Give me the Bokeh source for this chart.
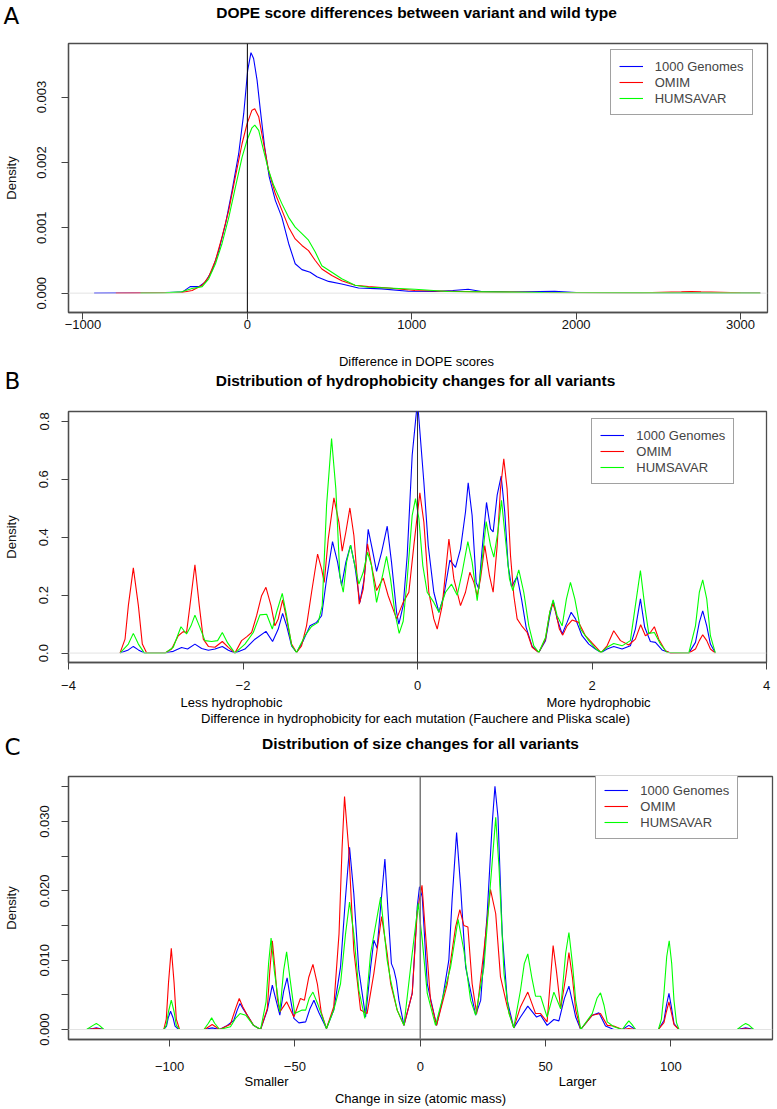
from bokeh.plotting import figure
from bokeh.models import Range1d, FixedTicker, Span, Legend, LegendItem
from bokeh.layouts import column
from bokeh.core.properties import value
from bokeh.embed import file_html
from bokeh.resources import INLINE

SERIES = ["1000 Genomes", "OMIM", "HUMSAVAR"]
COLORS = ["#0000ff", "#ff0000", "#00ff00"]
FONT = "Liberation Sans"
W = 777

# ---------------- Panel A : DOPE score differences (density) ----------------
a_blue_x = [-932, -700, -500, -396, -348, -336, -295, -255, -214, -174, -133, -93, -53, -22, 2, 22, 38,
            59, 79, 105, 133, 170, 210, 251, 291, 332, 382, 423, 494, 574, 676, 817, 979, 1141, 1250,
            1343, 1424, 1600, 1869, 2000, 2500, 3120]
a_blue_y = [0, 0.000005, 0.00001, 0.000015, 0.0001, 0.0001, 0.0001, 0.00017, 0.00035, 0.00065, 0.00106,
            0.00157, 0.00213, 0.00275, 0.00341, 0.00368, 0.00359, 0.00326, 0.0028, 0.00224, 0.00178,
            0.00142, 0.00116, 0.00076, 0.00045, 0.00036, 0.00032, 0.00025, 0.00018, 0.00014, 0.00008,
            0.000066, 0.00003, 0.000025, 0.00004, 0.00006, 0.000025, 0.000015, 0.00003, 0.00001,
            0.000005, 0]
a_red_x = [-800, -600, -400, -336, -275, -235, -194, -154, -113, -73, -32, -2, 28, 45, 69, 99, 129, 170,
           210, 251, 291, 332, 372, 413, 453, 514, 574, 655, 736, 858, 1019, 1222, 1424, 1800, 2400,
           2640, 2700, 2760, 3000, 3120]
a_red_y = [0, 0.000005, 0.00001, 0.00004, 0.00012, 0.00025, 0.0005, 0.00086, 0.00127, 0.00178, 0.00229,
           0.00259, 0.0028, 0.00282, 0.0027, 0.00229, 0.00188, 0.00152, 0.00127, 0.00101, 0.00083,
           0.00073, 0.00065, 0.0005, 0.00037, 0.00027, 0.00019, 0.00012, 0.0001, 0.00008, 0.00004,
           0.00003, 0.00002, 0.00001, 0.000005, 0.00002, 0.000025, 0.00002, 0.000005, 0]
a_green_x = [-650, -500, -400, -336, -275, -235, -194, -154, -113, -73, -32, -2, 28, 45, 69, 99, 129,
             160, 210, 251, 291, 332, 372, 413, 453, 514, 574, 655, 736, 858, 1019, 1222, 1424, 1800,
             2400, 3120]
a_green_y = [0, 0.000005, 0.00002, 0.00007, 0.0001, 0.00022, 0.00045, 0.00076, 0.00116, 0.00162,
             0.00208, 0.00234, 0.00253, 0.00257, 0.00249, 0.00218, 0.00188, 0.00165, 0.00137, 0.00116,
             0.00101, 0.00091, 0.00081, 0.00063, 0.00042, 0.00032, 0.00022, 0.00012, 0.00009, 0.00008,
             0.00006, 0.000025, 0.00002, 0.00001, 0.000005, 0]
a_xticks = [-1000, 0, 1000, 2000, 3000]
a_xlabels = ["\u22121000", "0", "1000", "2000", "3000"]
a_yticks = [0, 0.001, 0.002, 0.003]
a_ylabels = ["0.000", "0.001", "0.002", "0.003"]

# ---------------- Panel B : hydrophobicity changes, (x, density) pairs ----------------
b_blue = [(-3.41, 0), (-3.314, 0.011), (-3.257, 0.023), (-3.199, 0.011), (-3.13, 0), (-2.894, 0),
          (-2.799, 0.006), (-2.704, 0.019), (-2.635, 0.014), (-2.551, 0.031), (-2.474, 0.016),
          (-2.397, 0.01), (-2.321, 0.014), (-2.237, 0.023), (-2.168, 0.01), (-2.092, 0), (-1.978, 0.014),
          (-1.863, 0.048), (-1.737, 0.075), (-1.661, 0.04), (-1.596, 0.083), (-1.546, 0.137),
          (-1.5, 0.094), (-1.443, 0.025), (-1.386, 0.002), (-1.309, 0.043), (-1.233, 0.094),
          (-1.157, 0.106), (-1.099, 0.129), (-1.042, 0.256), (-0.974, 0.385), (-0.916, 0.314),
          (-0.87, 0.233), (-0.821, 0.314), (-0.767, 0.373), (-0.718, 0.302), (-0.66, 0.175),
          (-0.611, 0.256), (-0.565, 0.427), (-0.519, 0.36), (-0.469, 0.282), (-0.412, 0.348),
          (-0.347, 0.438), (-0.298, 0.314), (-0.24, 0.141), (-0.214, 0.1), (-0.164, 0.164),
          (-0.118, 0.337), (-0.061, 0.683), (0.0, 0.87), (0.073, 0.59), (0.123, 0.371), (0.187, 0.21),
          (0.245, 0.141), (0.302, 0.198), (0.371, 0.321), (0.436, 0.296), (0.493, 0.36), (0.55, 0.487),
          (0.581, 0.588), (0.626, 0.475), (0.672, 0.244), (0.703, 0.221), (0.741, 0.36), (0.791, 0.52),
          (0.837, 0.429), (0.867, 0.418), (0.913, 0.545), (0.959, 0.611), (1.0, 0.487), (1.039, 0.302),
          (1.077, 0.229), (1.142, 0.264), (1.192, 0.187), (1.245, 0.089), (1.314, 0.023), (1.39, 0.002),
          (1.467, 0.043), (1.516, 0.129), (1.555, 0.181), (1.6, 0.118), (1.658, 0.066), (1.714, 0.106),
          (1.761, 0.141), (1.811, 0.118), (1.886, 0.06), (1.963, 0.031), (2.039, 0.014), (2.104, 0.002),
          (2.173, 0.014), (2.249, 0.023), (2.345, 0.014), (2.44, 0.025), (2.497, 0.083), (2.555, 0.187),
          (2.604, 0.089), (2.669, 0.04), (2.727, 0.037), (2.803, 0.011), (2.899, 0), (3.109, 0),
          (3.186, 0.037), (3.23, 0.106), (3.269, 0.146), (3.315, 0.094), (3.357, 0.031), (3.414, 0)]
b_red = [(-3.41, 0), (-3.352, 0.048), (-3.314, 0.164), (-3.257, 0.294), (-3.199, 0.164), (-3.154, 0.031),
         (-3.104, 0), (-2.894, 0), (-2.818, 0.014), (-2.742, 0.06), (-2.685, 0.074), (-2.647, 0.071),
         (-2.608, 0.164), (-2.551, 0.305), (-2.501, 0.164), (-2.455, 0.048), (-2.397, 0.023),
         (-2.321, 0.02), (-2.237, 0.04), (-2.168, 0.02), (-2.092, 0), (-2.016, 0.043), (-1.959, 0.056),
         (-1.901, 0.071), (-1.844, 0.129), (-1.787, 0.198), (-1.737, 0.227), (-1.679, 0.164),
         (-1.634, 0.094), (-1.596, 0.118), (-1.546, 0.184), (-1.5, 0.118), (-1.443, 0.031),
         (-1.386, 0.002), (-1.329, 0.025), (-1.272, 0.094), (-1.214, 0.21), (-1.145, 0.342),
         (-1.099, 0.29), (-1.069, 0.244), (-1.023, 0.394), (-0.958, 0.536), (-0.901, 0.452),
         (-0.863, 0.352), (-0.821, 0.418), (-0.775, 0.501), (-0.729, 0.406), (-0.668, 0.169),
         (-0.622, 0.221), (-0.573, 0.377), (-0.519, 0.29), (-0.469, 0.216), (-0.393, 0.259),
         (-0.336, 0.198), (-0.24, 0.118), (-0.164, 0.175), (-0.099, 0.21), (-0.042, 0.371),
         (0.027, 0.553), (0.073, 0.452), (0.13, 0.21), (0.187, 0.118), (0.226, 0.083), (0.283, 0.164),
         (0.36, 0.394), (0.417, 0.256), (0.493, 0.164), (0.55, 0.21), (0.6, 0.279), (0.646, 0.244),
         (0.684, 0.198), (0.722, 0.256), (0.771, 0.371), (0.825, 0.267), (0.867, 0.21), (0.913, 0.371),
         (0.951, 0.567), (0.989, 0.671), (1.027, 0.567), (1.066, 0.337), (1.104, 0.198), (1.142, 0.118),
         (1.199, 0.092), (1.257, 0.071), (1.314, 0.02), (1.39, 0.002), (1.467, 0.048), (1.516, 0.141),
         (1.55, 0.172), (1.588, 0.138), (1.626, 0.083), (1.665, 0.062), (1.714, 0.094), (1.772, 0.114),
         (1.848, 0.106), (1.924, 0.06), (2.001, 0.035), (2.104, 0.002), (2.173, 0.025), (2.249, 0.077),
         (2.326, 0.043), (2.421, 0.028), (2.497, 0.048), (2.558, 0.098), (2.612, 0.06), (2.669, 0.071),
         (2.715, 0.091), (2.765, 0.048), (2.841, 0.008), (2.899, 0), (3.109, 0), (3.186, 0.014),
         (3.23, 0.043), (3.269, 0.063), (3.315, 0.043), (3.357, 0.014), (3.414, 0)]
b_green = [(-3.41, 0), (-3.314, 0.031), (-3.257, 0.068), (-3.199, 0.031), (-3.13, 0), (-2.894, 0),
           (-2.799, 0.02), (-2.711, 0.091), (-2.647, 0.066), (-2.596, 0.094), (-2.551, 0.131),
           (-2.501, 0.094), (-2.436, 0.043), (-2.36, 0.04), (-2.291, 0.043), (-2.237, 0.071),
           (-2.176, 0.035), (-2.092, 0), (-1.978, 0.031), (-1.882, 0.071), (-1.806, 0.132),
           (-1.729, 0.134), (-1.664, 0.083), (-1.615, 0.141), (-1.55, 0.206), (-1.5, 0.129),
           (-1.443, 0.026), (-1.386, 0.002), (-1.29, 0.06), (-1.214, 0.092), (-1.138, 0.106),
           (-1.092, 0.164), (-1.042, 0.51), (-0.985, 0.741), (-0.936, 0.567), (-0.89, 0.266),
           (-0.851, 0.21), (-0.813, 0.314), (-0.767, 0.373), (-0.718, 0.302), (-0.672, 0.238),
           (-0.622, 0.279), (-0.573, 0.348), (-0.527, 0.302), (-0.469, 0.175), (-0.401, 0.267),
           (-0.355, 0.334), (-0.309, 0.256), (-0.26, 0.141), (-0.21, 0.068), (-0.164, 0.11),
           (-0.118, 0.256), (-0.061, 0.475), (-0.023, 0.533), (0.016, 0.464), (0.061, 0.302),
           (0.111, 0.21), (0.187, 0.175), (0.245, 0.141), (0.321, 0.21), (0.39, 0.238), (0.455, 0.2),
           (0.512, 0.279), (0.577, 0.385), (0.626, 0.314), (0.684, 0.181), (0.734, 0.302),
           (0.787, 0.454), (0.837, 0.371), (0.875, 0.331), (0.921, 0.418), (0.963, 0.527),
           (1.008, 0.394), (1.054, 0.256), (1.092, 0.216), (1.161, 0.287), (1.218, 0.21), (1.276, 0.094),
           (1.333, 0.025), (1.39, 0.002), (1.467, 0.054), (1.516, 0.141), (1.555, 0.184), (1.6, 0.129),
           (1.658, 0.094), (1.707, 0.187), (1.753, 0.244), (1.803, 0.187), (1.868, 0.083),
           (1.963, 0.043), (2.039, 0.016), (2.104, 0.002), (2.173, 0.02), (2.249, 0.033), (2.345, 0.025),
           (2.44, 0.043), (2.497, 0.164), (2.555, 0.285), (2.604, 0.164), (2.65, 0.068), (2.715, 0.071),
           (2.784, 0.031), (2.86, 0.002), (3.109, 0), (3.186, 0.094), (3.23, 0.21), (3.269, 0.253),
           (3.315, 0.187), (3.357, 0.06), (3.414, 0)]
b_xticks = [-4, -2, 0, 2, 4]
b_xlabels = ["\u22124", "\u22122", "0", "2", "4"]
b_yticks = [0, 0.2, 0.4, 0.6, 0.8]
b_ylabels = ["0.0", "0.2", "0.4", "0.6", "0.8"]

# ---------------- Panel C : size changes, (x, density) pairs ----------------
c_blue = [(-133.1, 0), (-130.5, 0.00015), (-129.2, 0.00024), (-128, 0.00015), (-126.2, 0), (-102.3, 0),
          (-101.2, 0.0005), (-100.5, 0.0017), (-99.6, 0.00264), (-98.6, 0.0017), (-97.8, 0.0005),
          (-96.3, 0), (-86, 0), (-83, 0.00024), (-80, 0), (-77, 0.0006), (-74.4, 0.0013), (-73, 0.0028),
          (-71.9, 0.00375), (-70.5, 0.0029), (-69, 0.00207), (-66.5, 0.0006), (-63.7, 0), (-61, 0.0028),
          (-59, 0.0064), (-57.5, 0.0042), (-56, 0.00207), (-54.5, 0.0055), (-53.1, 0.00745),
          (-51.8, 0.0045), (-50.4, 0.0016), (-48.4, 0.00096), (-45.7, 0.0011), (-44, 0.003),
          (-42.4, 0.00423), (-40.5, 0.0025), (-37.4, 0.00014), (-34.5, 0.0028), (-31.8, 0.009),
          (-29.8, 0.0191), (-28.2, 0.0263), (-26.5, 0.0196), (-24.5, 0.0086), (-21.8, 0.0018),
          (-19.8, 0.009), (-18.5, 0.0129), (-17.2, 0.0117), (-15.8, 0.0177), (-14.1, 0.0246),
          (-12.5, 0.015), (-11.5, 0.0095), (-10.5, 0.0086), (-9.5, 0.007), (-8.5, 0.0042),
          (-6.5, 0.0006), (-3.2, 0.0052), (-1.2, 0.0177), (-0.3, 0.0206), (0.8, 0.0191), (2.8, 0.0066),
          (6.5, 0.0006), (8.8, 0.0042), (11.4, 0.01), (12.7, 0.0187), (14.5, 0.0284), (16.1, 0.0206),
          (18.1, 0.009), (22.1, 0.00207), (24.1, 0.0042), (26.7, 0.0167), (28.7, 0.0297), (29.8, 0.0351),
          (31, 0.0307), (32.7, 0.0138), (34.7, 0.0042), (37.3, 0.00024), (40, 0.0018), (42.9, 0.00337),
          (46.4, 0.0018), (48, 0.00207), (50.6, 0.0006), (53.3, 0.00144), (55.3, 0.00125),
          (57.5, 0.0045), (59.3, 0.00625), (61, 0.0035), (62, 0.0018), (64, 0), (68.6, 0.00207),
          (71.3, 0.0024), (73.9, 0.0005), (77.2, 0), (80.6, 0), (83.2, 0.0006), (85.9, 0), (95, 0),
          (97.2, 0.0013), (98.2, 0.0035), (99.2, 0.0052), (100.2, 0.0032), (101.2, 0.00087),
          (103.2, 0), (126.4, 0), (128.5, 0.00015), (129.8, 0.00024), (131.2, 0.00015), (133, 0)]
c_red = [(-133.1, 0), (-129.2, 0.00014), (-126.2, 0), (-102.3, 0), (-101.3, 0.0015), (-100.4, 0.0068),
         (-99.3, 0.0117), (-98.2, 0.0068), (-97.3, 0.0015), (-96, 0), (-86, 0), (-83, 0.00072), (-80, 0),
         (-75.7, 0.00077), (-73.5, 0.0032), (-72.2, 0.00447), (-70.8, 0.0033), (-69, 0.00207),
         (-66.5, 0.0006), (-63.7, 0), (-61, 0.003), (-60, 0.0085), (-59, 0.0128), (-58, 0.009),
         (-57, 0.0045), (-56, 0.00255), (-53.3, 0.00399), (-50.4, 0.0018), (-47.8, 0.00447),
         (-46.2, 0.00423), (-44.5, 0.0075), (-42.8, 0.0094), (-41, 0.0065), (-39.5, 0.0025),
         (-37.4, 0.00014), (-34.5, 0.0033), (-32.4, 0.0138), (-31.2, 0.026), (-30.2, 0.0336),
         (-28.5, 0.0259), (-26.5, 0.0114), (-23.8, 0.0028), (-21.2, 0.0023), (-18.5, 0.0081),
         (-15.4, 0.0163), (-13.2, 0.011), (-11.8, 0.0066), (-9.2, 0.0028), (-6.5, 0.0006),
         (-3.2, 0.0052), (-1.2, 0.017), (0.7, 0.0208), (2.1, 0.0138), (4.1, 0.0042), (6.5, 0.0006),
         (10.8, 0.0066), (14.1, 0.0148), (15.8, 0.0173), (17.4, 0.015), (19.0, 0.0148), (20.7, 0.0066),
         (22.5, 0.0023), (25.4, 0.0114), (28.0, 0.0202), (30.1, 0.0167), (32.0, 0.0076), (34.7, 0.0033),
         (37.3, 0.00024), (40, 0.0033), (42.9, 0.0054), (46, 0.0023), (48, 0.0023), (50.6, 0.0011),
         (52, 0.0075), (53.0, 0.0121), (54.3, 0.0085), (56.0, 0.003), (58, 0.0075), (59.3, 0.0111),
         (60.7, 0.0075), (62, 0.0028), (64, 0), (68.6, 0.00207), (71.9, 0.0023), (74.6, 0.0006),
         (77.2, 0.0005), (80.6, 0), (83.2, 0.00014), (86, 0), (95, 0), (97.2, 0.001), (98.2, 0.0026),
         (99.2, 0.004), (100.2, 0.0024), (101.2, 0.0007), (103.2, 0), (126.4, 0), (129.8, 0.0001),
         (133, 0)]
c_green = [(-133.1, 0), (-130.5, 0.0006), (-129.2, 0.00087), (-128, 0.0006), (-126.2, 0), (-102.3, 0),
           (-101.3, 0.0006), (-100.4, 0.0026), (-99.3, 0.00423), (-98.2, 0.0026), (-97.3, 0.0006),
           (-96, 0), (-86.3, 0), (-84.5, 0.0009), (-83.2, 0.00168), (-82, 0.0009), (-80, 0),
           (-75.7, 0.0004), (-73.7, 0.0016), (-71.9, 0.0023), (-69.6, 0.00207), (-66.5, 0.0006),
           (-63.7, 0), (-61.5, 0.004), (-60.5, 0.0095), (-59.5, 0.0132), (-58.2, 0.0085),
           (-56, 0.00255), (-54.5, 0.0085), (-53.3, 0.0112), (-52, 0.0075), (-50.1, 0.0023),
           (-47.1, 0.0028), (-45.7, 0.0028), (-44.3, 0.0045), (-42.8, 0.0054), (-41, 0.0038),
           (-37.4, 0.00014), (-34.5, 0.0028), (-31.8, 0.0066), (-29.8, 0.0138), (-28.2, 0.0184),
           (-26.5, 0.0138), (-24.5, 0.0057), (-22.1, 0.0016), (-19.8, 0.011), (-15.8, 0.0191),
           (-13.2, 0.01), (-11.8, 0.0071), (-9.2, 0.0028), (-6.5, 0.0006), (-3.2, 0.011),
           (-0.8, 0.0182), (0.8, 0.0129), (2.8, 0.0052), (6.1, 0.0006), (9.4, 0.0052), (12.1, 0.009),
           (15.1, 0.0159), (17.4, 0.0114), (20.1, 0.0042), (22.1, 0.00207), (25.4, 0.009), (28.0, 0.021),
           (30.1, 0.0306), (31.4, 0.0235), (33.4, 0.0081), (35.4, 0.0023), (37.3, 0.00024),
           (40, 0.0057), (41.5, 0.0095), (42.9, 0.0109), (44.5, 0.0075), (46, 0.0048), (48, 0.0048),
           (50.6, 0.0018), (53.3, 0.0054), (56, 0.003), (58, 0.011), (59.3, 0.014), (60.7, 0.0095),
           (62, 0.0042), (64, 0), (68.6, 0.0023), (70.5, 0.0045), (71.9, 0.0053), (73.3, 0.0035),
           (74.6, 0.0011), (77.2, 0.0004), (80.6, 0), (82, 0.0007), (83.2, 0.00125), (84.5, 0.0007),
           (85.9, 0), (95, 0), (96.2, 0.0015), (97.2, 0.0052), (98.3, 0.0105), (99.3, 0.0128),
           (100.3, 0.0095), (101.2, 0.0042), (102.2, 0.001), (103.2, 0), (126.4, 0), (128.5, 0.0006),
           (129.8, 0.00087), (131.2, 0.0006), (133, 0)]
c_xticks = [-100, -50, 0, 50, 100]
c_xlabels = ["\u2212100", "\u221250", "0", "50", "100"]
c_yticks = [0, 0.005, 0.01, 0.015, 0.02, 0.025, 0.03, 0.035]
c_ylabels = ["0.000", "", "0.010", "", "0.020", "", "0.030", ""]

# ---------------- texts ----------------
TITLE_A = "DOPE score differences between variant and wild type"
TITLE_B = "Distribution of hydrophobicity changes for all variants"
TITLE_C = "Distribution of size changes for all variants"
XLAB_A = "Difference in DOPE scores"
XLAB_B = "Difference in hydrophobicity for each mutation (Fauchere and Pliska scale)"
XLAB_C = "Change in size (atomic mass)"
SIDE_B = ["Less hydrophobic", "More hydrophobic"]
SIDE_C = ["Smaller", "Larger"]


def unzip(pairs):
    return [p[0] for p in pairs], [p[1] for p in pairs]


def panel(height, borders, xr, yr, xt, xl, yt, yl, curves, leg_loc, vcolor, vwidth,
          xstand, ystand, ylab_stand):
    bl, br, bt, bb = borders
    p = figure(width=W, height=height, x_range=Range1d(*xr), y_range=Range1d(*yr),
               output_backend="svg", toolbar_location=None, title=None,
               min_border_left=bl, min_border_right=br, min_border_top=bt, min_border_bottom=bb)
    p.frame_align = False
    p.xgrid.visible = False
    p.ygrid.visible = False
    p.background_fill_color = "white"
    p.border_fill_color = "white"
    p.outline_line_color = "#4d4d4d"
    p.outline_line_width = 1.3
    for ax in (p.xaxis[0], p.yaxis[0]):
        ax.axis_line_color = "#4d4d4d"
        ax.axis_line_width = 1.3
        ax.major_tick_in = 0
        ax.major_tick_out = 7
        ax.major_tick_line_color = "#444444"
        ax.minor_tick_line_color = None
        ax.major_label_text_font = FONT
        ax.major_label_text_font_size = "13px"
        ax.major_label_text_color = "#111111"
    p.xaxis.ticker = FixedTicker(ticks=xt)
    p.xaxis.major_label_overrides = dict(zip(xt, xl))
    p.xaxis.major_label_standoff = xstand
    p.yaxis.ticker = FixedTicker(ticks=yt)
    p.yaxis.major_label_overrides = dict(zip(yt, yl))
    p.yaxis.major_label_orientation = "vertical"
    p.yaxis.major_label_standoff = ystand
    p.yaxis.axis_label = "Density"
    p.yaxis.axis_label_text_font = FONT
    p.yaxis.axis_label_text_font_size = "13px"
    p.yaxis.axis_label_text_font_style = "normal"
    p.yaxis.axis_label_text_color = "#111111"
    p.yaxis.axis_label_standoff = ylab_stand
    p.add_layout(Span(location=0, dimension="width", line_color="#e3e3e3", line_width=1))
    p.add_layout(Span(location=0, dimension="height", line_color=vcolor, line_width=vwidth))
    rs = []
    for (xs, ys), c in zip(curves, COLORS):
        rs.append(p.line(xs, ys, line_color=c, line_width=1.1))
    leg = Legend(items=[LegendItem(label=n, renderers=[r]) for n, r in zip(SERIES, rs)],
                 location=leg_loc, label_text_font=FONT, label_text_font_size="13px",
                 glyph_width=24, glyph_height=16, label_height=16, label_standoff=12,
                 spacing=0, padding=8, margin=0, border_line_color="#444444",
                 border_line_width=1, background_fill_color="white", background_fill_alpha=1)
    p.add_layout(leg)
    return p


def strip(height, items):
    """items: (text, x, y, size, bold, align, font) with x, y in pixels of this strip."""
    s = figure(width=W, height=height, x_range=Range1d(0, W), y_range=Range1d(height, 0),
               output_backend="svg", toolbar_location=None, title=None,
               x_axis_type=None, y_axis_type=None,
               min_border_left=0, min_border_right=0, min_border_top=0, min_border_bottom=0)
    s.frame_align = False
    s.xgrid.visible = False
    s.ygrid.visible = False
    s.outline_line_color = None
    s.background_fill_color = "white"
    s.border_fill_color = "white"
    for text, x, y, size, bold, align, font in items:
        s.text(x=[x], y=[y], text=[text], text_align=align, text_baseline="middle",
               text_font=value(font), text_font_size=value(size),
               text_font_style="bold" if bold else "normal", text_color="black")
    return s


LET = "DejaVu Sans"
s_a = strip(41, [("A", 3, 15.5, "23px", False, "left", LET),
                 (TITLE_A, 416, 11.5, "15.5px", True, "center", FONT)])
pa = panel(304, (66, 10, 2, 33), (-1088, 3164), (-0.000296, 0.00382), a_xticks, a_xlabels,
           a_yticks, a_ylabels, [(a_blue_x, a_blue_y), (a_red_x, a_red_y), (a_green_x, a_green_y)],
           (541.7, 196.7), "#000000", 1, 0, 15, 16)
s_b = strip(64, [(XLAB_A, 416, 15.5, "13px", False, "center", FONT),
                 ("B", 4, 35.5, "23px", False, "left", LET),
                 (TITLE_B, 415, 34.5, "15.5px", True, "center", FONT)])
pb = panel(285, (67, 11, 2, 32), (-4, 4), (-0.0325, 0.834), b_xticks, b_xlabels,
           b_yticks, b_ylabels, [unzip(b_blue), unzip(b_red), unzip(b_green)],
           (523.3, 178), "#333333", 1, 11, 13, 18)
s_b2 = strip(80, [(SIDE_B[0], 231, 7.5, "13px", False, "center", FONT),
                  (SIDE_B[1], 598, 7.5, "13px", False, "center", FONT),
                  (XLAB_B, 415, 23.5, "13px", False, "center", FONT),
                  ("C", 4, 52, "23px", False, "left", LET),
                  (TITLE_C, 420, 48.5, "15.5px", True, "center", FONT)])
pc = panel(299, (68, 5, 2, 34), (-140.3, 140.5), (-0.00144, 0.0365), c_xticks, c_xlabels,
           c_yticks, c_ylabels, [unzip(c_blue), unzip(c_red), unzip(c_green)],
           (527.3, 199.7), "#7a7a7a", 1.5, 15, 12, 19)
s_c = strip(36, [(SIDE_C[0], 266, 8, "13px", False, "center", FONT),
                 (SIDE_C[1], 577, 8, "13px", False, "center", FONT),
                 (XLAB_C, 420, 24.5, "13px", False, "center", FONT)])

layout = column(s_a, pa, s_b, pb, s_b2, pc, s_c, spacing=0)
open("out.html", "w").write(file_html(layout, INLINE))
